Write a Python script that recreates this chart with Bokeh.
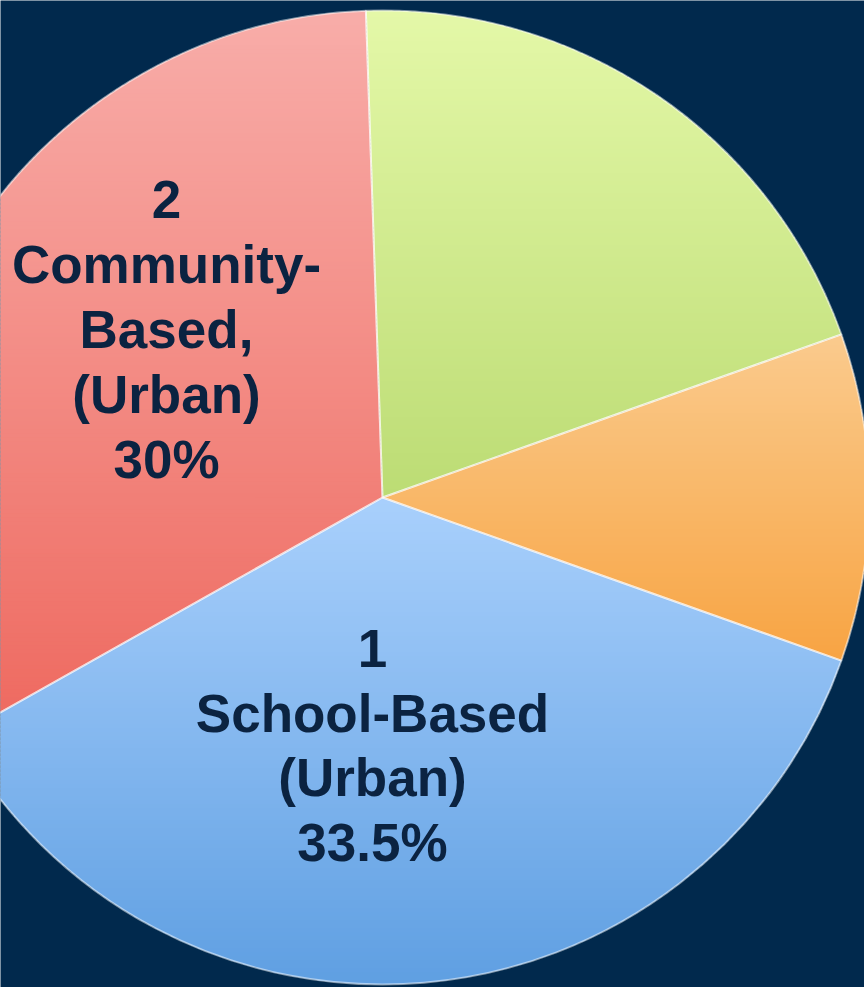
import numpy as np
from bokeh.plotting import figure
from bokeh.models import ColumnDataSource
from bokeh.core.properties import value
from bokeh.embed import file_html
from bokeh.resources import INLINE

# ---- data ----
categories = ["School-Based (Urban)", "Community-Based (Urban)", "Segment 3", "Segment 4"]
values = [33.5, 30.0, 18.5, 10.0]
label_texts = ["1\nSchool-Based\n(Urban)\n33.5%", "2\nCommunity-\nBased,\n(Urban)\n30%", "", ""]
top_colors = ["#A9D0FC", "#F8ADA9", "#E4F8A8", "#FACB8E"]
bottom_colors = ["#5F9FE2", "#EE695F", "#BCDC74", "#F8A443"]

# ---- layout / style ----
W, H = 864, 987
BG = "#01294D"
TEXT = "#0B2341"
cx, cy, R = 382, 490, 487
ccw_order = [3, 2, 1, 0]          # orange, green, red, blue (counter-clockwise)
label_pos = {0: (372, 242), 1: (166, 658)}

vals = np.array(values, dtype=float)
spans = vals / vals.sum() * 2 * np.pi
starts = np.zeros(len(vals))
ends = np.zeros(len(vals))
a = -spans[ccw_order[0]] / 2
for i in ccw_order:
    starts[i] = a
    ends[i] = a + spans[i]
    a += spans[i]

p = figure(width=W, height=H, x_range=(0, W), y_range=(0, H),
           output_backend="svg", toolbar_location=None, min_border=0,
           x_axis_type=None, y_axis_type=None,
           background_fill_color=BG, border_fill_color=BG,
           outline_line_color=None)
p.grid.visible = False


def hex2rgb(h):
    h = h.lstrip("#")
    return np.array([int(h[k:k + 2], 16) for k in (0, 2, 4)], dtype=float)


def rgb2hex(c):
    c = np.clip(np.round(c), 0, 255).astype(int)
    return "#%02x%02x%02x" % tuple(c)


def clip(poly, y0, keep_above):
    out = []
    n = len(poly)
    for k in range(n):
        P = poly[k]
        Q = poly[(k + 1) % n]
        inP = P[1] >= y0 if keep_above else P[1] <= y0
        inQ = Q[1] >= y0 if keep_above else Q[1] <= y0
        if inP:
            out.append(P)
        if inP != inQ:
            t = (y0 - P[1]) / (Q[1] - P[1])
            out.append((P[0] + t * (Q[0] - P[0]), y0))
    return out


# gradient strips computed from each wedge (vertical gradient, light top -> darker bottom)
xs_all, ys_all, cols = [], [], []
step = 4.0
for i in range(len(vals)):
    th = np.linspace(starts[i], ends[i], 240)
    poly = [(cx, cy)] + [(cx + R * np.cos(t), cy + R * np.sin(t)) for t in th]
    ymax = max(q[1] for q in poly)
    ymin = min(q[1] for q in poly)
    c_top = hex2rgb(top_colors[i])
    c_bot = hex2rgb(bottom_colors[i])
    y = ymax
    while y > ymin:
        y_lo = max(y - step, ymin)
        part = clip(clip(poly, y_lo, True), min(y + 1.5, ymax), False)
        if len(part) >= 3:
            t = ((ymax - (y + y_lo) / 2) / (ymax - ymin))
            col = rgb2hex(c_top + (c_bot - c_top) * t)
            xs_all.append([q[0] for q in part])
            ys_all.append([q[1] for q in part])
            cols.append(col)
        y = y_lo

p.patches(xs=xs_all, ys=ys_all, fill_color=cols, line_color=None)

src = ColumnDataSource(dict(cat=categories, start=starts.tolist(), end=ends.tolist()))
p.wedge(x=cx, y=cy, radius=R, start_angle="start", end_angle="end", source=src,
        fill_alpha=0, line_color="#FFFFFF", line_alpha=0.5, line_width=2)

lx = [label_pos[i][0] for i in label_pos]
ly = [label_pos[i][1] for i in label_pos]
lt = [label_texts[i] for i in label_pos]
p.text(x=lx, y=ly, text=lt, text_font=value("Liberation Sans"), text_font_style="bold",
       text_font_size="53px", text_align="center", text_baseline="middle",
       text_color=TEXT, text_line_height=1.1)

open("out.html", "w").write(file_html(p, INLINE))
